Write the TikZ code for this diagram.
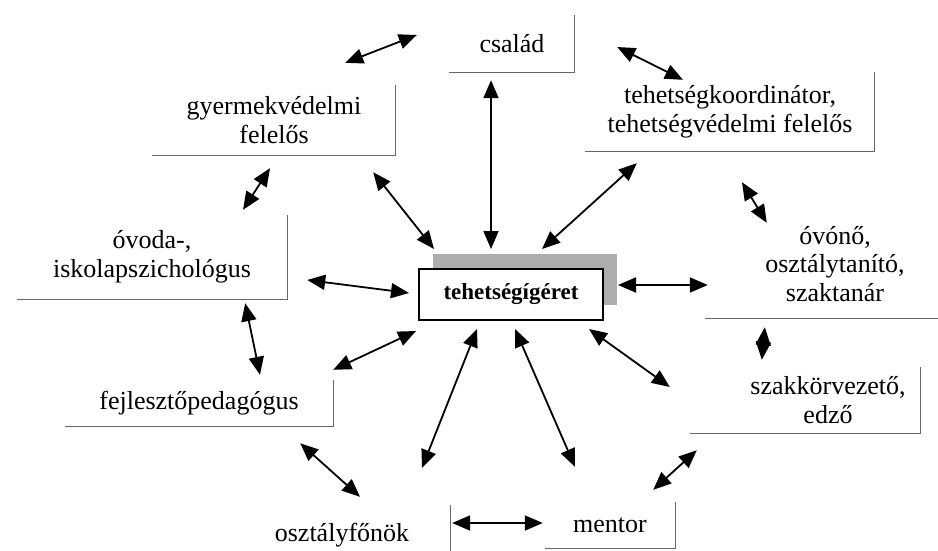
\documentclass[tikz,border=0pt]{standalone}
\usepackage{fontspec}
\setmainfont{Liberation Serif}
\usetikzlibrary{positioning,shadows,arrows.meta}

\begin{document}
\begin{tikzpicture}[x=1pt,y=-1pt,
    rolebox/.style={rectangle, inner sep=0pt, align=center,
        font=\fontsize{26}{28.5}\selectfont},
    mainbox/.style={rectangle, draw=black, line width=2pt, fill=white,
        font=\fontsize{23}{26}\selectfont\bfseries,
        drop shadow={shadow xshift=14pt, shadow yshift=15pt, fill=black!32, opacity=1}},
    frameline/.style={draw=black!60, line width=1.2pt},
    link/.style={{Triangle[length=18pt,width=15pt]}-{Triangle[length=18pt,width=15pt]}, line width=1.8pt},
]
\clip (0,0) rectangle (938,550);

% szereplok
\node [rolebox, minimum width=125, minimum height=57] (csalad) at (512,44) {család};
\node [rolebox, minimum width=243, minimum height=70] (gyermek) at (274,120) {gyermekvédelmi\\felelős};
\node [rolebox, minimum width=289, minimum height=79] (koord) at (730,112) {tehetségkoordinátor,\\tehetségvédelmi felelős};
\node [rolebox, minimum width=270, minimum height=84] (ovoda) at (152,257) {óvoda-,\\iskolapszichológus};
\node [mainbox, minimum width=184, minimum height=51] (igeret) at (511,294) {tehetségígéret};
\node [rolebox, minimum width=260, minimum height=108] (ovono) at (835,264) {óvónő,\\osztálytanító,\\szaktanár};
\node [rolebox, minimum width=184, minimum height=66] (szakkor) at (828,400) {szakkörvezető,\\edző};
\node [rolebox, minimum width=268, minimum height=46] (fejleszto) at (199,403) {fejlesztőpedagógus};
\node [rolebox, minimum width=216, minimum height=60] (ofonok) at (342,535) {osztályfőnök};
\node [rolebox, minimum width=130, minimum height=46] (mentor) at (610,525) {mentor};

% keretek (jobb es also el)
\draw [frameline] (csalad.north east) |- (csalad.south west);
\draw [frameline] (gyermek.north east) |- (gyermek.south west);
\draw [frameline] (koord.north east) |- (koord.south west);
\draw [frameline] (ovoda.north east) |- (ovoda.south west);
\draw [frameline] (ovono.south west) -- (ovono.south east);
\draw [frameline] (szakkor.north east) |- ([xshift=-46pt]szakkor.south west);
\draw [frameline] (fejleszto.north east) |- (fejleszto.south west);
\draw [frameline] (ofonok.north east) -- (ofonok.south east);
\draw [frameline] (mentor.north east) |- (mentor.south west);

% kapcsolatok
\draw [link] ([shift={(-32.5,-9)}]csalad.west) -- ([shift={(-50.5,-22)}]gyermek.north east);
\draw [link] ([shift={(42.5,3)}]csalad.east) -- ([shift={(-47,7.5)}]koord.north);
\draw [link] ([shift={(-21,7.5)}]csalad.south) -- ([shift={(-20,-18.5)}]igeret.north);
\draw [link] ([shift={(-22.5,17)}]gyermek.south east) -- ([shift={(16,-18.5)}]igeret.north west);
\draw [link] ([shift={(51.5,11.5)}]koord.south west) -- ([shift={(31,-18.5)}]igeret.north);
\draw [link] ([shift={(12,30.5)}]koord.south) -- ([shift={(62,13)}]ovono.north west);
\draw [link] ([shift={(-4,13)}]gyermek.south) -- ([shift={(91,-5)}]ovoda.north);
\draw [link] ([shift={(-9,-1)}]igeret.west) -- ([shift={(20,23)}]ovoda.east);
\draw [link] ([shift={(14,-9)}]igeret.east) -- ([shift={(3,21)}]ovono.west);
\draw [link] ([shift={(-42,4)}]ovoda.south east) -- ([shift={(61,-5)}]fejleszto.north);
\draw [link] ([shift={(-2,10.5)}]igeret.south west) -- ([shift={(0,-10)}]fejleszto.north east);
\draw [link] ([shift={(-34,8.5)}]igeret.south) -- ([shift={(80,-37)}]ofonok.north);
\draw [link] ([shift={(4,8.5)}]igeret.south) -- ([shift={(-35,-35)}]mentor.north);
\draw [link] ([shift={(-15,8.5)}]igeret.south east) -- ([shift={(-66,-13)}]szakkor.west);
\draw [link] ([shift={(60,9)}]ovono.south west) -- ([shift={(26,-7)}]szakkor.north west);
\draw [link] ([shift={(-33,17)}]fejleszto.south east) -- ([shift={(18,-8)}]ofonok.north);
\draw [link] ([shift={(2,-12)}]ofonok.east) -- ([shift={(-2,-2)}]mentor.west);
\draw [link] ([shift={(-39,17)}]szakkor.south west) -- ([shift={(-22,-12)}]mentor.north east);

\end{tikzpicture}
\end{document}
